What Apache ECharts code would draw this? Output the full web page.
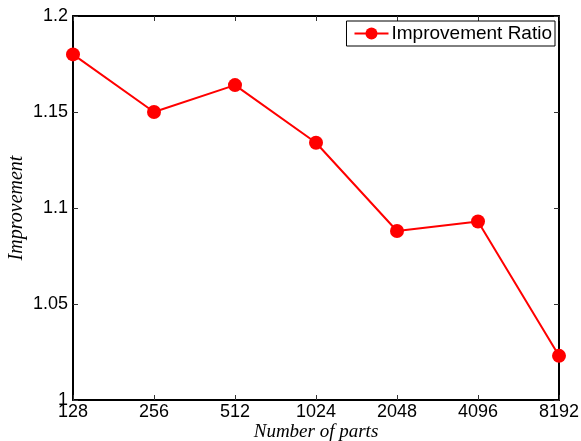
<!DOCTYPE html>
<html><head><meta charset="utf-8">
<script src="https://cdn.jsdelivr.net/npm/echarts@6/dist/echarts.min.js"></script>
<style>html,body{margin:0;padding:0;background:#fff}#c{width:581px;height:441px}</style>
</head><body><div id="c"></div>
<script>
const categories = ['128','256','512','1024','2048','4096','8192'];
const improvementRatio = [1.18, 1.15, 1.164, 1.134, 1.088, 1.093, 1.023];
const yTicks = [1, 1.05, 1.1, 1.15, 1.2];
const seriesName = 'Improvement Ratio';
const xTitle = 'Number of parts';
const yTitle = 'Improvement';

const chart = echarts.init(document.getElementById('c'), null, {renderer:'canvas'});
const axisLine = {show:true, lineStyle:{color:'#000', width:2}};
const tick = {show:true, inside:true, length:5, lineStyle:{color:'#333', width:1}};
const font = {fontFamily:'Liberation Sans', fontSize:18, color:'#000'};
chart.setOption({
  animation:false,
  backgroundColor:'#fff',
  grid:{left:73, right:22, top:16, bottom:41, show:false, containLabel:false, outerBoundsMode:'none'},
  legend:{
    data:[seriesName], right:26, top:21, orient:'horizontal',
    backgroundColor:'#fff', borderColor:'#000', borderWidth:1,
    padding:[3,3,3,7], itemWidth:34, itemHeight:15, itemGap:4,
    textStyle:{fontFamily:'Liberation Sans', fontSize:19, color:'#000', padding:[0,0,0,-2]}
  },
  xAxis:[{
    type:'category', data:categories, boundaryGap:false, position:'bottom',
    axisLine:axisLine, axisTick:Object.assign({alignWithLabel:true}, tick),
    axisLabel:Object.assign({margin:3}, font), splitLine:{show:false},
    name:xTitle, nameLocation:'middle', nameGap:22, nameMoveOverlap:false,
    nameTextStyle:{fontFamily:'Liberation Serif', fontStyle:'italic', fontSize:19, color:'#000'}
  },{
    type:'category', data:categories, boundaryGap:false, position:'top',
    axisLine:axisLine, axisTick:tick, axisLabel:{show:false}, splitLine:{show:false}
  }],
  yAxis:[{
    type:'value', min:1, max:1.2, interval:0.05, position:'left',
    axisLine:axisLine, axisTick:tick, splitLine:{show:false},
    axisLabel:Object.assign({margin:5, formatter:v=>String(+v.toFixed(2))}, font),
    name:yTitle, nameLocation:'middle', nameGap:46, nameRotate:90, nameMoveOverlap:false,
    nameTextStyle:{fontFamily:'Liberation Serif', fontStyle:'italic', fontSize:20, color:'#000'}
  },{
    type:'value', min:1, max:1.2, interval:0.05, position:'right',
    axisLine:axisLine, axisTick:tick, axisLabel:{show:false}, splitLine:{show:false}
  }],
  series:[{
    name:seriesName, type:'line', data:improvementRatio,
    xAxisIndex:0, yAxisIndex:0,
    symbol:'circle', symbolSize:14,
    lineStyle:{color:'#ff0000', width:2},
    itemStyle:{color:'#ff0000'}
  }]
});
</script></body></html>
